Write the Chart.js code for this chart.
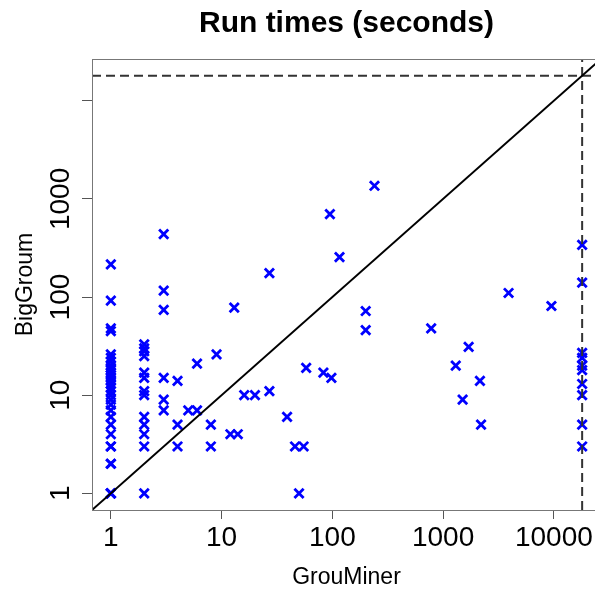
<!DOCTYPE html>
<html><head><meta charset="utf-8">
<script src="https://cdn.jsdelivr.net/npm/chart.js@4.4.1/dist/chart.umd.min.js"></script>
<style>
html,body{margin:0;padding:0;overflow:hidden;background:#fff;width:595px;height:589px}
#wrap{position:relative;width:615px;height:589px}
</style>
</head><body><div id="wrap"><canvas id="c" width="615" height="589"></canvas></div>
<script>
// ---- data (seconds) ----
const grouMinerTimes = [
  1,1,1,1,1,1,1,1,1,1,1,1,1,1,1,1,1,1,1,1,1,1,1,1,1,1,1,1,1,1,1,
  2,2,2,2,2,2,2,2,2,2,2,2,2,
  3,3,3,3,3,3,
  4,4,4, 5, 6,6, 8,8, 9, 12, 14, 13, 16, 20, 27,27, 39, 46, 55, 50, 58, 83, 98, 95, 116,
  200,200, 240, 780, 1300, 1500, 1700, 2150, 2200, 3900, 9500,
  18000,18000,18000,18000,18000,18000,18000,18000,18000,18000
];
const bigGroumTimes = [
  1,1,1,2,2,3,3,4,5,6,7,8,9,10,11,12,13,14,15,16,17,18,19,20,22,24,26,45,48,92,215,
  1,3,4,5,6,10,11,15,17,25,28,30,33,
  7,9,15,74,116,437,
  3,5,14, 7, 7,21, 3,5, 26, 4, 4, 78, 10, 10, 11,175, 6, 3, 3, 1, 19, 17, 15, 700, 255,
  72,46, 1360, 48, 20, 9, 31, 14, 5, 110, 81,
  340,140,27,24,20,18,13,10,5,3
];
const timeoutSeconds = [18000];
const xTickValues = [1, 10, 100, 1000, 10000];
const xTickLabels = ['1', '10', '100', '1000', '10000'];
const yTickValues = [1, 10, 100, 1000, 10000];
const yTickLabels = ['1', '10', '100', '1000', ''];
const titleText = 'Run times (seconds)';
const xAxisTitle = 'GrouMiner';
const yAxisTitle = 'BigGroum';

// R-style log axis limits: data range [1, timeout] widened by 4% per side
const loLog = Math.log10(1), hiLog = Math.log10(timeoutSeconds[0]);
const ext = 0.04 * (hiLog - loLog);
const axisMin = Math.pow(10, loLog - ext), axisMax = Math.pow(10, hiLog + ext);

const FONT = '"Liberation Sans", Arial, Helvetica, sans-serif';
const points = grouMinerTimes.map((x, i) => ({x: x, y: bigGroumTimes[i]}));
const t = timeoutSeconds[0];

const boxPlugin = {
  id: 'box',
  afterDraw(chart) {
    const a = chart.chartArea, ctx = chart.ctx;
    ctx.save();
    ctx.strokeStyle = '#777'; ctx.lineWidth = 1;
    ctx.strokeRect(a.left + 0.5, a.top + 0.5, a.right - a.left, a.bottom - a.top);
    ctx.restore();
  }
};
const yLabelPlugin = {
  id: 'yLabels',
  afterDraw(chart) {
    const s = chart.scales.y, ctx = chart.ctx;
    ctx.save();
    ctx.font = '28px ' + FONT; ctx.fillStyle = '#000';
    ctx.textAlign = 'center'; ctx.textBaseline = 'alphabetic';
    s.ticks.forEach((tk, i) => {
      const lab = yTickLabels[i];
      if (!lab) return;
      const py = s.getPixelForValue(tk.value);
      ctx.save();
      ctx.translate(s.right - 23, py);
      ctx.rotate(-Math.PI / 2);
      ctx.fillText(lab, 0, 0);
      ctx.restore();
    });
    ctx.restore();
  }
};

new Chart(document.getElementById('c'), {
  type: 'scatter',
  data: {
    datasets: [
      { type: 'line', data: [{x: axisMin, y: axisMin}, {x: axisMax, y: axisMax}],
        borderColor: '#000', borderWidth: 2, pointRadius: 0, order: 0 },
      { type: 'line', data: [{x: axisMin, y: t}, {x: axisMax, y: t}],
        borderColor: '#333', borderWidth: 2, borderDash: [9, 5], pointRadius: 0, order: 0 },
      { type: 'line', data: [{x: t, y: axisMin}, {x: t, y: axisMax}],
        borderColor: '#333', borderWidth: 2, borderDash: [9, 5], pointRadius: 0, order: 0 },
      { data: points, pointStyle: 'crossRot', pointRadius: 6.5, pointBorderWidth: 2.8,
        borderColor: '#0000FF', backgroundColor: '#0000FF', order: 1 }
    ]
  },
  options: {
    responsive: false, animation: false, devicePixelRatio: 1,
    layout: { padding: { left: 0, right: 14, top: 0, bottom: 0 } },
    plugins: {
      legend: { display: false }, tooltip: { enabled: false },
      title: { display: true, text: titleText, fullSize: false, color: '#000',
        font: { family: FONT, size: 30, weight: 'bold', lineHeight: 1.2 },
        padding: { top: 6, bottom: 17 } }
    },
    scales: {
      x: {
        type: 'logarithmic', position: 'bottom', min: axisMin, max: axisMax,
        afterBuildTicks: s => { s.ticks = xTickValues.map(v => ({value: v})); },
        afterFit: s => { s.height = 79; },
        ticks: { autoSkip: false, maxRotation: 0, minRotation: 0, padding: 2, color: '#000',
          font: { family: FONT, size: 28 },
          callback: (v) => xTickLabels[xTickValues.indexOf(v)] },
        grid: { drawOnChartArea: false, drawTicks: true, tickLength: 9, color: '#555' },
        border: { display: true, color: '#555', width: 1 },
        title: { display: true, text: xAxisTitle, color: '#000',
          font: { family: FONT, size: 23, lineHeight: 1 }, padding: { top: 0, bottom: 0 } }
      },
      y: {
        type: 'logarithmic', position: 'left', min: axisMin, max: axisMax,
        afterBuildTicks: s => { s.ticks = yTickValues.map(v => ({value: v})); },
        afterFit: s => { s.width = 92; },
        ticks: { display: false },
        grid: { drawOnChartArea: false, drawTicks: true, tickLength: 10, color: '#555' },
        border: { display: true, color: '#555', width: 1 },
        title: { display: true, text: yAxisTitle, color: '#000',
          font: { family: FONT, size: 23, lineHeight: 1 }, padding: { top: 14, bottom: 0 } }
      }
    }
  },
  plugins: [boxPlugin, yLabelPlugin]
});
</script>
</body></html>
